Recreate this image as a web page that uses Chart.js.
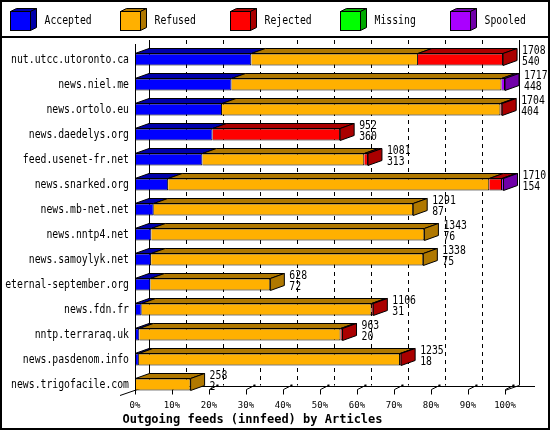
<!DOCTYPE html>
<html>
<head>
<meta charset="utf-8">
<script src="https://cdn.jsdelivr.net/npm/chart.js@4"></script>
<style>
  body { margin: 0; background: #fff; }
  canvas { display: block; }
</style>
</head>
<body>
<canvas id="feedChart" width="550" height="430"></canvas>
<script>
const hosts = [
    'nut.utcc.utoronto.ca', 'news.niel.me', 'news.ortolo.eu', 'news.daedelys.org',
    'feed.usenet-fr.net', 'news.snarked.org', 'news.mb-net.net', 'news.nntp4.net',
    'news.samoylyk.net', 'eternal-september.org', 'news.fdn.fr', 'nntp.terraraq.uk',
    'news.pasdenom.info', 'news.trigofacile.com'
];
const offered  = [1708, 1717, 1704, 952, 1081, 1710, 1291, 1343, 1338, 628, 1106, 963, 1235, 258];
const accepted = [540, 448, 404, 360, 313, 154, 87, 76, 75, 72, 31, 20, 18, 2];
const refused  = [773, 1253, 1292, 0, 751, 1490, 1204, 1267, 1263, 556, 1067, 934, 1212, 256];
const rejected = [395, 0, 8, 592, 17, 59, 0, 0, 0, 0, 8, 9, 5, 0];
const missing  = [0, 0, 0, 0, 0, 0, 0, 0, 0, 0, 0, 0, 0, 0];
const spooled  = [0, 16, 0, 0, 0, 7, 0, 0, 0, 0, 0, 0, 0, 0];
const seriesNames = ['Accepted', 'Refused', 'Rejected', 'Missing', 'Spooled'];
const frontColors = ['#0000ff', '#ffb000', '#ff0000', '#00ff00', '#aa00ff'];
const darkColors  = ['#0000aa', '#b07800', '#aa0000', '#00aa00', '#7000a8'];

const MONO = '"DejaVu Sans Mono", monospace';
const DX = 14, DY = 5; // depth of the 3d bars

function polygon(ctx, pts, fill) {
    ctx.beginPath();
    ctx.moveTo(pts[0][0], pts[0][1]);
    for (let i = 1; i < pts.length; i++) ctx.lineTo(pts[i][0], pts[i][1]);
    ctx.closePath();
    ctx.fillStyle = fill;
    ctx.fill();
    ctx.stroke();
}

// the old gd font is narrow and tall, so stretch the text a little
function tallText(ctx, text, x, y, align) {
    ctx.save();
    ctx.translate(x, y);
    ctx.scale(1, 1.28);
    ctx.fillStyle = '#000';
    ctx.font = '9.8px ' + MONO;
    ctx.textAlign = align;
    ctx.textBaseline = 'middle';
    ctx.fillText(text, 0, 0);
    ctx.restore();
}

const backdrop = {
    id: 'backdrop',
    beforeDraw(chart) {
        const ctx = chart.ctx;
        ctx.save();
        ctx.fillStyle = '#fff';
        ctx.fillRect(0, 0, chart.width, chart.height);
        ctx.restore();
    },
    beforeDatasetsDraw(chart) {
        const ctx = chart.ctx;
        const area = chart.chartArea;
        const xp = chart.scales.xp;
        const last = chart.getDatasetMeta(0).data[hosts.length - 1];
        const floorY = last.y + last.height / 2;
        const top = area.top - 7;
        ctx.save();
        ctx.strokeStyle = '#000';
        ctx.lineWidth = 1;
        // back gridlines
        xp.ticks.forEach((t, i) => {
            const x = Math.round(xp.getPixelForValue(t.value) + DX) + 0.5;
            ctx.setLineDash(i === 0 || i === xp.ticks.length - 1 ? [] : [4, 4]);
            ctx.beginPath();
            ctx.moveTo(x, top);
            ctx.lineTo(x, floorY - DY);
            ctx.stroke();
        });
        ctx.setLineDash([]);
        // floor
        const fy = Math.round(floorY - DY) + 0.5;
        ctx.beginPath();
        ctx.moveTo(area.left, fy);
        ctx.lineTo(area.right + 30, fy);
        ctx.moveTo(area.left - 15, floorY + 5);
        ctx.lineTo(area.left + DX, floorY - DY);
        ctx.moveTo(area.right, floorY);
        ctx.lineTo(area.right + DX, floorY - DY);
        ctx.stroke();
        // ticks
        xp.ticks.forEach(t => {
            const x = Math.round(xp.getPixelForValue(t.value)) + 0.5;
            ctx.beginPath();
            ctx.moveTo(x, floorY + 4);
            ctx.lineTo(x, floorY - 1);
            ctx.lineTo(x + 8, floorY - DY);
            ctx.stroke();
            ctx.fillStyle = '#000';
            ctx.fillRect(x + 7, floorY - DY - 1, 2, 2);
        });
        ctx.restore();
    },
    afterDatasetsDraw(chart) {
        const ctx = chart.ctx;
        const area = chart.chartArea;
        const xs = chart.scales.x;
        const ys = chart.scales.y;
        const metas = chart.data.datasets.map((d, i) => chart.getDatasetMeta(i));
        ctx.save();
        ctx.strokeStyle = '#000';
        ctx.lineWidth = 1;
        for (let i = 0; i < hosts.length; i++) {
            let lastSeg = null;
            metas.forEach((meta, d) => {
                const p = meta.data[i].getProps(['x', 'y', 'base', 'height'], true);
                if (Math.abs(p.x - p.base) < 0.5) return;
                const yt = p.y - p.height / 2;
                polygon(ctx, [[p.base, yt], [p.x, yt], [p.x + DX, yt - DY], [p.base + DX, yt - DY]], darkColors[d]);
                lastSeg = { p, d };
            });
            if (lastSeg) {
                const p = lastSeg.p;
                const yt = p.y - p.height / 2, yb = p.y + p.height / 2;
                polygon(ctx, [[p.x, yt], [p.x + DX, yt - DY], [p.x + DX, yb - DY], [p.x, yb]], darkColors[lastSeg.d]);
            }
            // host name, offered and accepted counts
            const cy = ys.getPixelForTick(i);
            tallText(ctx, chart.data.labels[i], area.left - 6, cy, 'right');
            const tx = xs.getPixelForValue(offered[i]) + DX + 5;
            tallText(ctx, String(offered[i]), tx, cy - 8.5, 'left');
            tallText(ctx, String(accepted[i]), tx, cy + 2, 'left');
        }
        // left wall
        const last = metas[0].data[hosts.length - 1];
        ctx.beginPath();
        ctx.moveTo(Math.round(area.left) + 0.5, area.top - 3);
        ctx.lineTo(Math.round(area.left) + 0.5, last.y + last.height / 2);
        ctx.stroke();
        ctx.restore();
    },
    afterDraw(chart) {
        const ctx = chart.ctx;
        ctx.save();
        ctx.strokeStyle = '#000';
        ctx.lineWidth = 1;
        // legend with little cubes
        chart.data.datasets.forEach((ds, i) => {
            const x = 10.5 + 110 * i, y = 11.5;
            ctx.fillStyle = ds.backgroundColor;
            ctx.fillRect(x, y, 20, 19);
            ctx.strokeRect(x, y, 20, 19);
            polygon(ctx, [[x, y], [x + 20, y], [x + 26, y - 3], [x + 6, y - 3]], darkColors[i]);
            polygon(ctx, [[x + 20, y], [x + 26, y - 3], [x + 26, y + 16], [x + 20, y + 19]], darkColors[i]);
            tallText(ctx, ds.label, x + 34, y + 9.5, 'left');
        });
        ctx.lineWidth = 2;
        ctx.beginPath();
        ctx.moveTo(0, 37);
        ctx.lineTo(chart.width, 37);
        ctx.stroke();
        ctx.strokeRect(1, 1, chart.width - 2, chart.height - 2);
        ctx.restore();
    }
};

const seriesData = [accepted, refused, rejected, missing, spooled];

new Chart(document.getElementById('feedChart'), {
    type: 'bar',
    data: {
        labels: hosts,
        datasets: seriesNames.map((name, i) => ({
            label: name,
            data: seriesData[i],
            backgroundColor: frontColors[i],
            borderColor: '#000',
            borderWidth: 1,
            borderSkipped: 'start',
            inflateAmount: 0,
            barThickness: 12,
            xAxisID: 'x',
            yAxisID: 'y'
        }))
    },
    options: {
        indexAxis: 'y',
        responsive: false,
        animation: false,
        layout: { padding: { top: 47, right: 45, left: 0, bottom: 0 } },
        plugins: {
            legend: { display: false },
            tooltip: { enabled: false },
            title: {
                display: true,
                position: 'bottom',
                text: 'Outgoing feeds (innfeed) by Articles',
                color: '#000',
                font: { family: MONO, size: 12, weight: 'bold', lineHeight: 1.2 },
                padding: { top: 0, bottom: 3 }
            }
        },
        scales: {
            x: {
                type: 'linear',
                stacked: true,
                min: 0,
                max: Math.max(...offered),
                display: false
            },
            xp: {
                type: 'linear',
                position: 'bottom',
                min: 0,
                max: 100,
                grid: { display: false, drawTicks: false },
                border: { display: false },
                ticks: {
                    stepSize: 10,
                    padding: 3,
                    autoSkip: false,
                    maxRotation: 0,
                    color: '#000',
                    font: { family: MONO, size: 9 },
                    callback: v => v + '%'
                },
                afterFit(scale) { scale.height = 15.6; }
            },
            y: {
                stacked: true,
                grid: { display: false, drawTicks: false },
                border: { display: false },
                ticks: { display: false, autoSkip: false },
                afterFit(scale) { scale.width = 135; }
            }
        }
    },
    plugins: [backdrop]
});
</script>
</body>
</html>
